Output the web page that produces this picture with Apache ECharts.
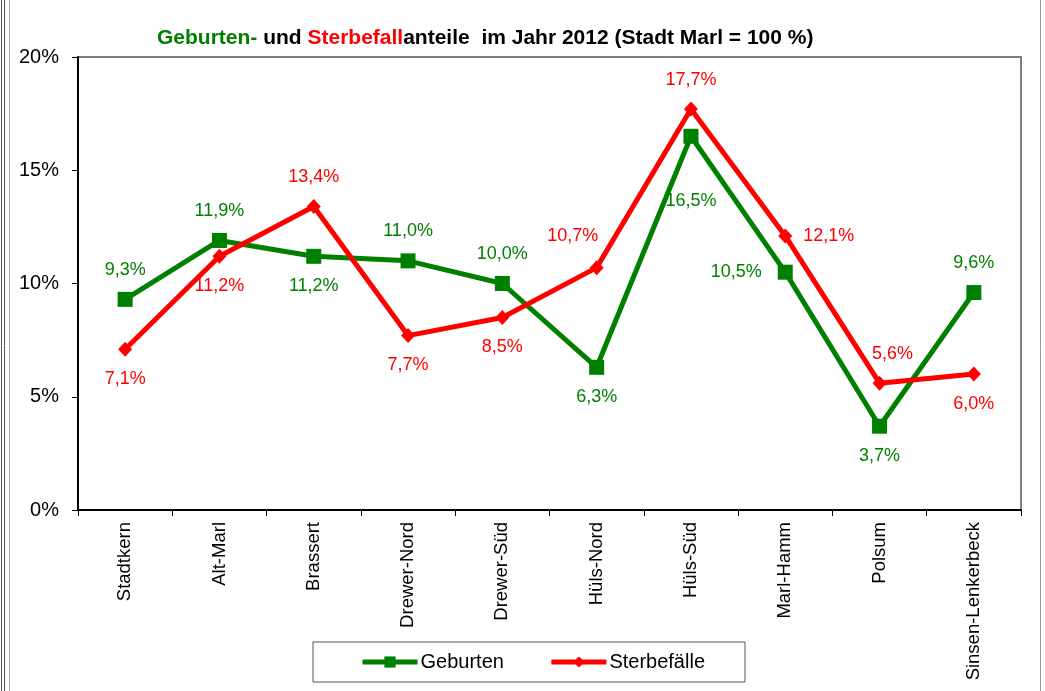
<!DOCTYPE html>
<html>
<head>
<meta charset="utf-8">
<script src="https://cdn.jsdelivr.net/npm/echarts@6/dist/echarts.min.js"></script>
<style>
  html, body { margin: 0; padding: 0; background: #fff; }
  #chart { width: 1045px; height: 691px; }
</style>
</head>
<body>
<div id="chart"></div>
<script>
// Stadtteile
const categories = ['Stadtkern', 'Alt-Marl', 'Brassert', 'Drewer-Nord', 'Drewer-Süd',
  'Hüls-Nord', 'Hüls-Süd', 'Marl-Hamm', 'Polsum', 'Sinsen-Lenkerbeck']
// Anteile in %
const geburten = [9.3, 11.9, 11.2, 11.0, 10.0, 6.3, 16.5, 10.5, 3.7, 9.6]
const sterbefaelle = [7.1, 11.2, 13.4, 7.7, 8.5, 10.7, 17.7, 12.1, 5.6, 6.0]
const yTicks = [0, 5, 10, 15, 20]

// wo die Beschriftung sitzt
const geburtenLabelPos = ['top', 'top', 'bottom', 'top', 'top', 'bottom', 'bottom', 'left', 'bottom', 'top']
const sterbeLabelPos = ['bottom', 'bottom', 'top', 'bottom', 'bottom', 'top', 'top', 'right', 'top', 'bottom']

const fmt = v => v.toFixed(1).replace('.', ',') + '%'
const FONT = 'Liberation Sans, Arial, sans-serif'

function makeData(values, positions, color, extra) {
  return values.map((v, i) => {
    const label = {
      position: positions[i],
      distance: 13,
      color: color
    }
    if (extra[i]) Object.assign(label, extra[i])
    return { value: v, label: label }
  })
}

const geburtenExtra = {
  6: { distance: 48 },
  7: { distance: 16 }
}
const sterbeExtra = {
  5: { offset: [-24, -2] },
  7: { distance: 11 },
  8: { offset: [13, 0] }
}

const chart = echarts.init(document.getElementById('chart'), null, { renderer: 'canvas' })

const option = {
  backgroundColor: '#fff',
  animation: false,
  textStyle: { fontFamily: FONT },
  title: {
    text: '{g|Geburten-} und {r|Sterbefall}anteile  im Jahr 2012 (Stadt Marl = 100 %)',
    left: 157,
    top: 28,
    padding: 0,
    textStyle: {
      fontFamily: FONT,
      fontSize: 21,
      fontWeight: 'bold',
      color: '#000',
      rich: {
        g: { color: '#008000', fontSize: 21, fontWeight: 'bold', fontFamily: FONT },
        r: { color: '#ff0000', fontSize: 21, fontWeight: 'bold', fontFamily: FONT }
      }
    }
  },
  grid: {
    left: 78,
    right: 24,
    top: 57,
    bottom: 181,
    show: true,
    borderColor: '#808080',
    borderWidth: 2
  },
  legend: {
    left: 313,
    top: 642,
    orient: 'horizontal',
    padding: [10, 40, 10, 47],
    itemGap: 45,
    itemWidth: 55,
    itemHeight: 14,
    borderColor: '#555',
    borderWidth: 1,
    borderRadius: 0,
    lineStyle: { width: 5 },
    textStyle: { fontSize: 20, color: '#000', fontFamily: FONT, padding: [0, 0, 0, -2] },
    data: ['Geburten', 'Sterbefälle']
  },
  xAxis: {
    type: 'category',
    data: categories,
    boundaryGap: true,
    axisLine: { lineStyle: { color: '#000', width: 2 } },
    axisTick: { show: true, length: 6, lineStyle: { color: '#000' } },
    axisLabel: {
      rotate: 90,
      margin: 12,
      fontSize: 18.5,
      color: '#000',
      fontFamily: FONT,
      interval: 0
    },
    splitLine: { show: false }
  },
  yAxis: {
    type: 'value',
    min: yTicks[0],
    max: yTicks[yTicks.length - 1],
    interval: 5,
    axisLine: { show: true, lineStyle: { color: '#000', width: 2 } },
    axisTick: { show: true, length: 6, lineStyle: { color: '#000' } },
    axisLabel: {
      formatter: '{value}%',
      fontSize: 20,
      margin: 19,
      color: '#000',
      fontFamily: FONT
    },
    splitLine: { show: false }
  },
  series: [
    {
      name: 'Geburten',
      type: 'line',
      data: makeData(geburten, geburtenLabelPos, '#008000', geburtenExtra),
      symbol: 'rect',
      symbolSize: 15,
      itemStyle: { color: '#008000' },
      lineStyle: { color: '#008000', width: 5 },
      label: {
        show: true,
        formatter: p => fmt(p.value),
        fontSize: 18,
        fontFamily: FONT
      },
      z: 2
    },
    {
      name: 'Sterbefälle',
      type: 'line',
      data: makeData(sterbefaelle, sterbeLabelPos, '#ff0000', sterbeExtra),
      symbol: 'diamond',
      symbolSize: [14, 15],
      itemStyle: { color: '#ff0000' },
      lineStyle: { color: '#ff0000', width: 5 },
      label: {
        show: true,
        formatter: p => fmt(p.value),
        fontSize: 18,
        fontFamily: FONT
      },
      z: 3
    }
  ],
  graphic: [
    // äußerer Rahmen
    { type: 'line', shape: { x1: 1.5, y1: 0, x2: 1.5, y2: 691 }, style: { stroke: '#555', lineWidth: 1 }, silent: true },
    { type: 'line', shape: { x1: 4.5, y1: 0, x2: 4.5, y2: 691 }, style: { stroke: '#555', lineWidth: 1 }, silent: true },
    { type: 'line', shape: { x1: 9.5, y1: 0, x2: 9.5, y2: 691 }, style: { stroke: '#aaa', lineWidth: 1 }, silent: true },
    { type: 'line', shape: { x1: 1040.5, y1: 0, x2: 1040.5, y2: 691 }, style: { stroke: '#999', lineWidth: 1 }, silent: true }
  ]
}

chart.setOption(option)
</script>
</body>
</html>
